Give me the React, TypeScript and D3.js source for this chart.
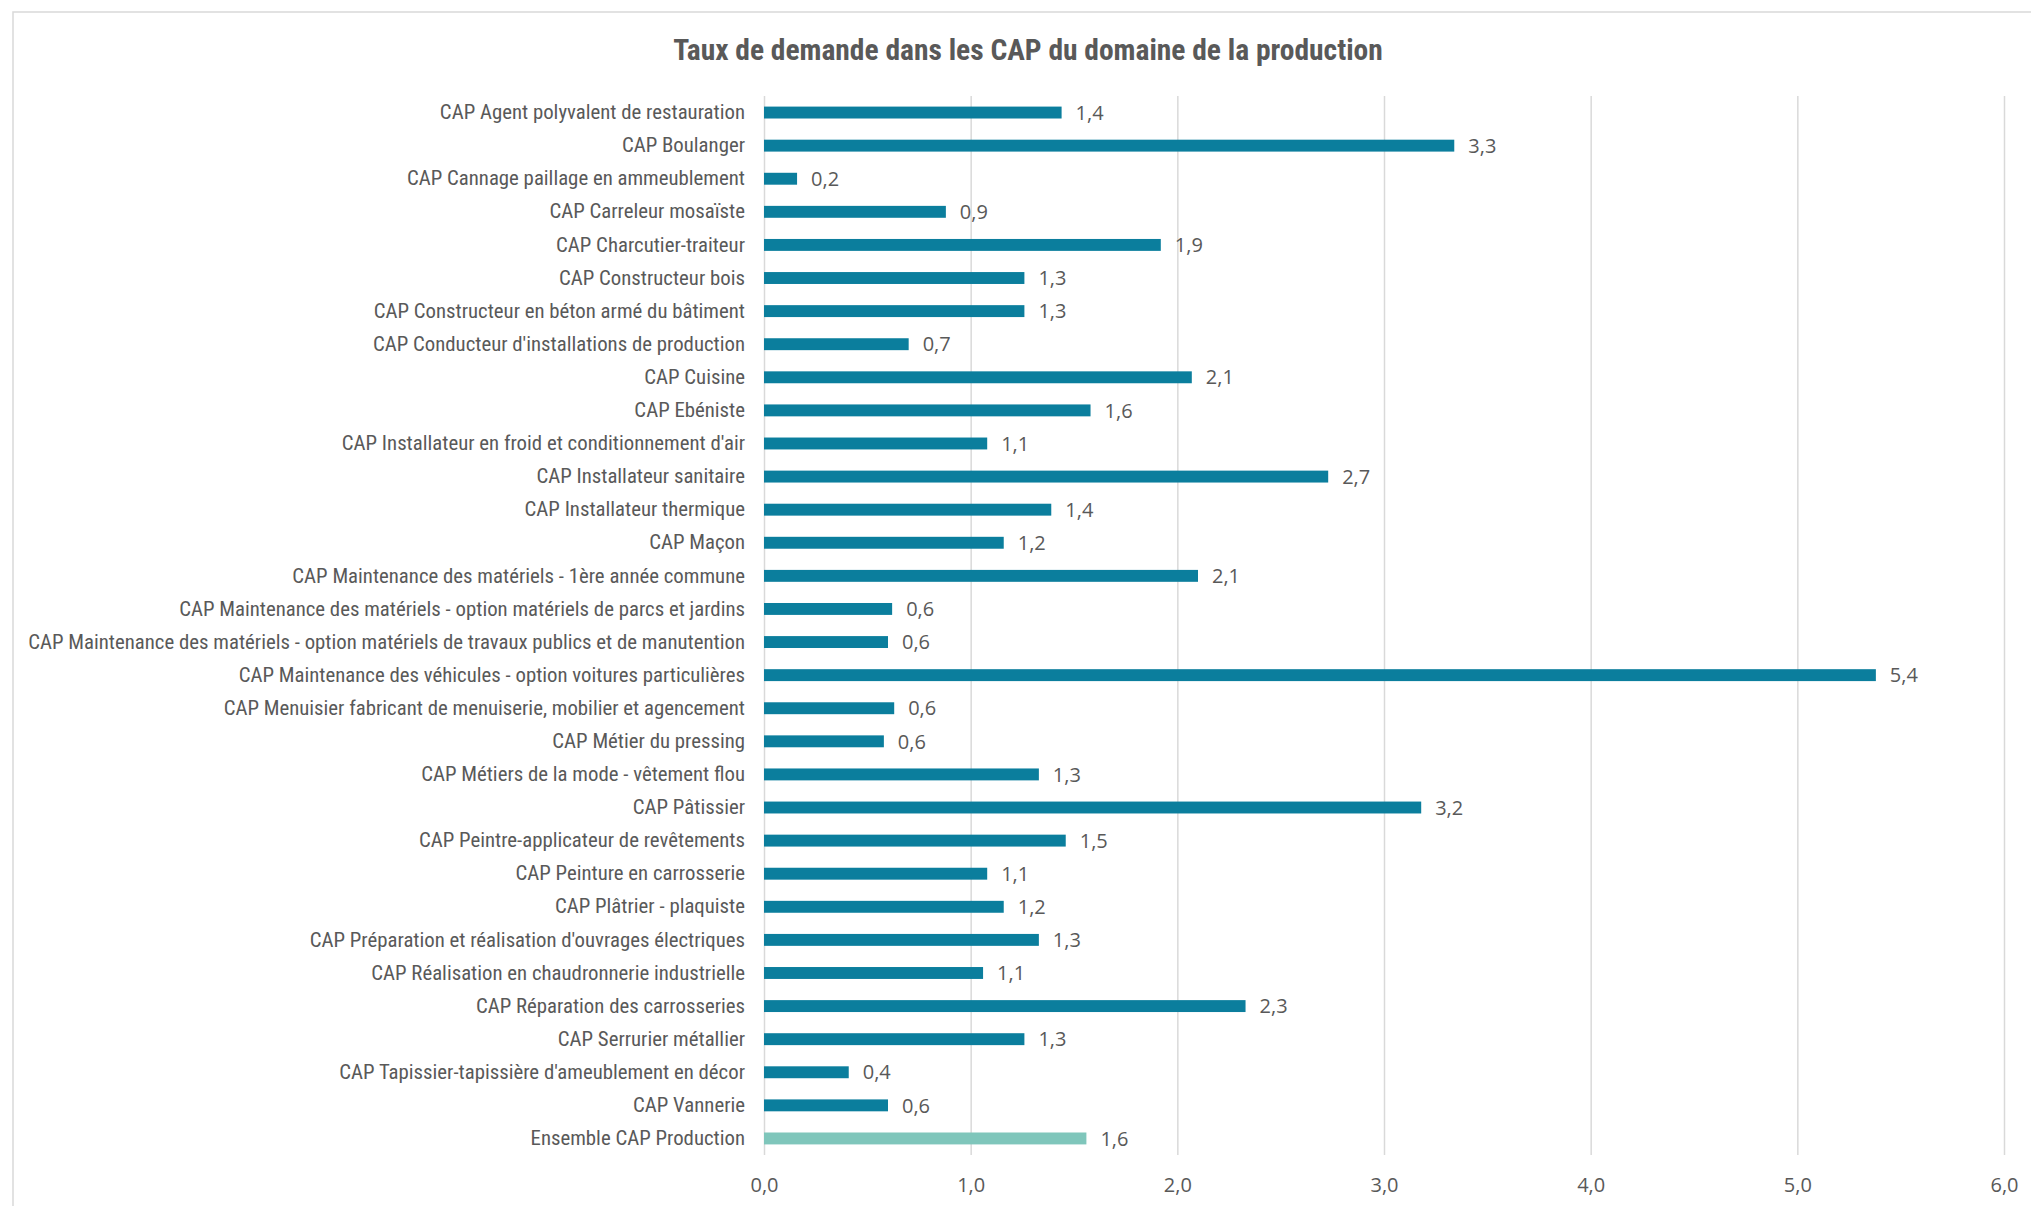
import { useRef, useEffect } from "react";
import * as d3 from "d3";

const categories = [
  "CAP Agent polyvalent de restauration",
  "CAP Boulanger",
  "CAP Cannage paillage en ammeublement",
  "CAP Carreleur mosaïste",
  "CAP Charcutier-traiteur",
  "CAP Constructeur bois",
  "CAP Constructeur en béton armé du bâtiment",
  "CAP Conducteur d'installations de production",
  "CAP Cuisine",
  "CAP Ebéniste",
  "CAP Installateur en froid et conditionnement d'air",
  "CAP Installateur sanitaire",
  "CAP Installateur thermique",
  "CAP Maçon",
  "CAP Maintenance des matériels - 1ère année commune",
  "CAP Maintenance des matériels - option matériels de parcs et jardins",
  "CAP Maintenance des matériels - option matériels de travaux publics et de manutention",
  "CAP Maintenance des véhicules - option voitures particulières",
  "CAP Menuisier fabricant de menuiserie, mobilier et agencement",
  "CAP Métier du pressing",
  "CAP Métiers de la mode - vêtement flou",
  "CAP Pâtissier",
  "CAP Peintre-applicateur de revêtements",
  "CAP Peinture en carrosserie",
  "CAP Plâtrier - plaquiste",
  "CAP Préparation et réalisation d'ouvrages électriques",
  "CAP Réalisation en chaudronnerie industrielle",
  "CAP Réparation des carrosseries",
  "CAP Serrurier métallier",
  "CAP Tapissier-tapissière d'ameublement en décor",
  "CAP Vannerie",
  "Ensemble CAP Production",
];

const values = [
  1.44, 3.34, 0.16, 0.88, 1.92, 1.26, 1.26, 0.7, 2.07, 1.58, 1.08, 2.73, 1.39,
  1.16, 2.1, 0.62, 0.6, 5.38, 0.63, 0.58, 1.33, 3.18, 1.46, 1.08, 1.16, 1.33,
  1.06, 2.33, 1.26, 0.41, 0.6, 1.56,
];

const xTicks = [0, 1, 2, 3, 4, 5, 6];
const totalLabel = "Ensemble CAP Production";
const title = "Taux de demande dans les CAP du domaine de la production";

const W = 2031;
const H = 1206;

const narrow = "'Liberation Sans Narrow', 'Arial Narrow', 'Roboto Condensed', sans-serif";
const numFont = "'Open Sans', 'Noto Sans', sans-serif";
const fmt = (v: number) => d3.format(".1f")(v).replace(".", ",");

export default function App() {
  const svgRef = useRef<SVGSVGElement>(null);

  useEffect(() => {
    if (!svgRef.current) return;
    const svg = d3.select(svgRef.current);
    svg.selectAll("*").remove();

    const left = 764;
    const right = 2004;
    const top = 96;
    const bottom = 1155;

    const x = d3.scaleLinear().domain([0, 6]).range([left, right]);
    const y = d3
      .scaleBand<string>()
      .domain(categories)
      .range([top, bottom])
      .paddingInner(0.64)
      .paddingOuter(0.32);

    // chart border
    svg
      .append("rect")
      .attr("x", 13)
      .attr("y", 12)
      .attr("width", W)
      .attr("height", H)
      .attr("fill", "#fff")
      .attr("stroke", "#d9d9d9")
      .attr("stroke-width", 1.5);

    // title
    svg
      .append("text")
      .attr("x", 1028)
      .attr("y", 60)
      .attr("text-anchor", "middle")
      .attr("font-family", narrow)
      .attr("font-weight", "bold")
      .attr("font-size", 29.5)
      .attr("fill", "#595959")
      .text(title);

    // X axis with gridlines
    svg
      .append("g")
      .attr("transform", `translate(0,${bottom})`)
      .call(
        d3
          .axisBottom(x)
          .tickValues(xTicks)
          .tickSize(-(bottom - top))
          .tickPadding(23)
          .tickFormat((d) => fmt(d as number))
      )
      .call((g) => g.select(".domain").remove())
      .call((g) =>
        g.selectAll(".tick line").attr("stroke", "#d9d9d9").attr("stroke-width", 1.5)
      )
      .call((g) =>
        g
          .selectAll(".tick text")
          .attr("fill", "#595959")
          .attr("font-family", numFont)
          .attr("font-size", 20)
      );

    // Y axis labels
    svg
      .append("g")
      .attr("transform", `translate(${left},0)`)
      .call(d3.axisLeft(y).tickSize(0).tickPadding(19))
      .call((g) => g.select(".domain").remove())
      .call((g) =>
        g
          .selectAll(".tick text")
          .attr("fill", "#595959")
          .attr("font-family", narrow)
          .attr("font-size", 20.8)
      );

    const rows = categories.map((c, i) => ({ c, v: values[i] }));

    // Bars
    svg
      .append("g")
      .selectAll("rect")
      .data(rows)
      .join("rect")
      .attr("x", x(0))
      .attr("y", (d) => y(d.c)!)
      .attr("width", (d) => x(d.v) - x(0))
      .attr("height", y.bandwidth())
      .attr("fill", (d) => (d.c === totalLabel ? "#7fc6bb" : "#0b7e9d"));

    // Value labels
    svg
      .append("g")
      .selectAll("text")
      .data(rows)
      .join("text")
      .attr("x", (d) => x(d.v) + 14)
      .attr("y", (d) => y(d.c)! + y.bandwidth() / 2)
      .attr("dy", "0.36em")
      .attr("fill", "#595959")
      .attr("font-family", numFont)
      .attr("font-size", 20)
      .text((d) => fmt(d.v));
  }, []);

  return (
    <svg
      ref={svgRef}
      width={W}
      height={H}
      style={{ position: "absolute", left: 0, top: 0, display: "block" }}
    />
  );
}
